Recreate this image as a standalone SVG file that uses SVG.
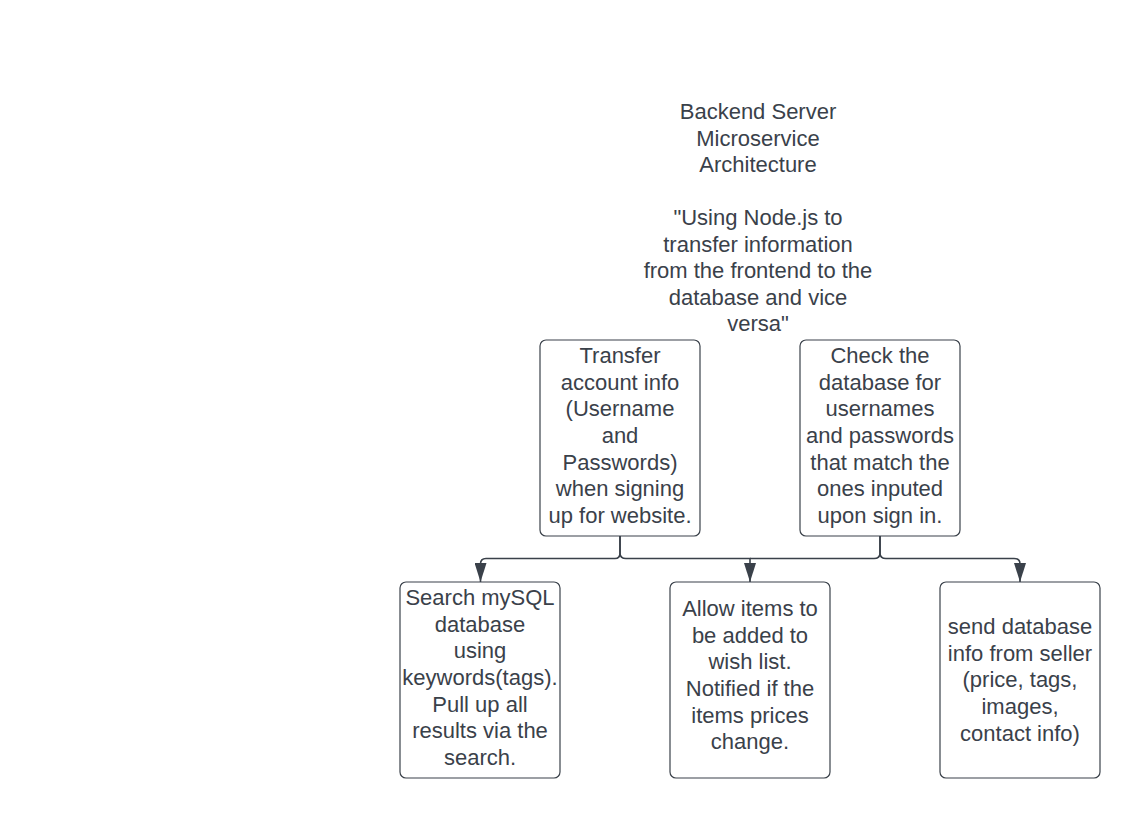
<svg xmlns="http://www.w3.org/2000/svg" width="1140" height="818" viewBox="0 0 1140 818">
<style>
text{font-family:"Liberation Sans",Arial,sans-serif;font-size:22px;fill:#3a414a;text-anchor:middle}
.box{fill:#ffffff;stroke:#3a414a;stroke-width:1.2}
.conn{fill:none;stroke:#3a414a;stroke-width:1.6}
</style>
<defs>
<marker id="arr" markerWidth="19" markerHeight="12" refX="19" refY="6" orient="auto" markerUnits="userSpaceOnUse" viewBox="0 0 19 12">
<path d="M0,0 L19,6 L0,12 Z" fill="#3a414a"/>
</marker>
</defs>
<rect width="1140" height="818" fill="#ffffff"/>
<g id="title">
<text x="758" y="119">Backend Server</text>
<text x="758" y="145.5">Microservice</text>
<text x="758" y="172">Architecture</text>
<text x="758" y="225">"Using Node.js to</text>
<text x="758" y="251.5">transfer information</text>
<text x="758" y="278">from the frontend to the</text>
<text x="758" y="304.5">database and vice</text>
<text x="758" y="331">versa"</text>
</g>
<g id="connectors">
<path class="conn" d="M620,536 V553 Q620,558.5 615,558.5 H486 Q480.5,558.5 480.5,564 V582" marker-end="url(#arr)"/>
<path class="conn" d="M620,536 V553 Q620,558.5 626,558.5 H750 V582" marker-end="url(#arr)"/>
<path class="conn" d="M880,536 V553 Q880,558.5 874,558.5 H750"/>
<path class="conn" d="M880,536 V553 Q880,558.5 886,558.5 H1014 Q1020,558.5 1020,564 V582" marker-end="url(#arr)"/>
</g>
<g id="node-signup">
<rect class="box" x="540" y="340" width="160" height="196" rx="6"/>
<text x="620" y="363">Transfer</text>
<text x="620" y="389.7">account info</text>
<text x="620" y="416.3">(Username</text>
<text x="620" y="443">and</text>
<text x="620" y="469.7">Passwords)</text>
<text x="620" y="496.3">when signing</text>
<text x="620" y="523">up for website.</text>
</g>
<g id="node-signin">
<rect class="box" x="800" y="340" width="160" height="196" rx="6"/>
<text x="880" y="363">Check the</text>
<text x="880" y="389.7">database for</text>
<text x="880" y="416.3">usernames</text>
<text x="880" y="443">and passwords</text>
<text x="880" y="469.7">that match the</text>
<text x="880" y="496.3">ones inputed</text>
<text x="880" y="523">upon sign in.</text>
</g>
<g id="node-search">
<rect class="box" x="400" y="582" width="160" height="196" rx="6"/>
<text x="480" y="605">Search mySQL</text>
<text x="480" y="631.7">database</text>
<text x="480" y="658.3">using</text>
<text x="480" y="685">keywords(tags).</text>
<text x="480" y="711.7">Pull up all</text>
<text x="480" y="738.3">results via the</text>
<text x="480" y="765">search.</text>
</g>
<g id="node-wishlist">
<rect class="box" x="670" y="582" width="160" height="196" rx="6"/>
<text x="750" y="616">Allow items to</text>
<text x="750" y="642.7">be added to</text>
<text x="750" y="669.3">wish list.</text>
<text x="750" y="696">Notified if the</text>
<text x="750" y="722.7">items prices</text>
<text x="750" y="749.3">change.</text>
</g>
<g id="node-seller">
<rect class="box" x="940" y="582" width="160" height="196" rx="6"/>
<text x="1020" y="634">send database</text>
<text x="1020" y="660.7">info from seller</text>
<text x="1020" y="687.3">(price, tags,</text>
<text x="1020" y="714">images,</text>
<text x="1020" y="740.7">contact info)</text>
</g>
</svg>
